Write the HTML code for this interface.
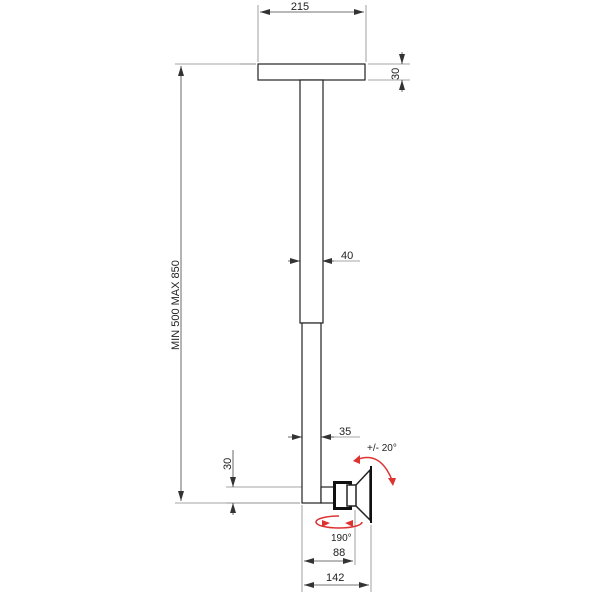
<!DOCTYPE html>
<html><head><style>body{margin:0;background:#fff}svg{display:block}</style></head><body>
<svg width="600" height="600" viewBox="0 0 600 600" font-family="Liberation Sans, sans-serif" font-size="11">
<defs>
<marker id="a" viewBox="0 0 10 6" refX="10" refY="3" markerWidth="10" markerHeight="6" orient="auto-start-reverse" markerUnits="userSpaceOnUse"><path d="M0,0L10,3L0,6z" fill="#333"/></marker>
</defs>
<g stroke="#888" stroke-width="0.8" fill="none">
<line x1="258" y1="5" x2="258" y2="62"/><line x1="366" y1="5" x2="366" y2="62"/>
<line x1="240" y1="64" x2="256" y2="64"/><line x1="175" y1="64" x2="256" y2="64"/>
<line x1="368" y1="64" x2="410" y2="64"/><line x1="368" y1="80" x2="410" y2="80"/>
<line x1="175" y1="503" x2="300" y2="503"/><line x1="226" y1="487" x2="316" y2="487"/>
<line x1="226" y1="503" x2="300" y2="503"/>
<line x1="302" y1="505" x2="302" y2="592"/><line x1="371" y1="525" x2="371" y2="592"/>
<line x1="355" y1="510" x2="355" y2="565"/>
<line x1="322" y1="261" x2="360" y2="261"/><line x1="322" y1="437" x2="360" y2="437"/>
</g>
<g stroke="#444" stroke-width="0.8" fill="none">
<line x1="260" y1="12" x2="364" y2="12" marker-start="url(#a)" marker-end="url(#a)"/>
<line x1="402" y1="52" x2="402" y2="64" marker-end="url(#a)"/>
<line x1="402" y1="92" x2="402" y2="80" marker-end="url(#a)"/>
<line x1="181" y1="66" x2="181" y2="501" marker-start="url(#a)" marker-end="url(#a)"/>
<line x1="233" y1="450" x2="233" y2="487" marker-end="url(#a)"/>
<line x1="233" y1="515" x2="233" y2="503" marker-end="url(#a)"/>
<line x1="288" y1="261" x2="300" y2="261" marker-end="url(#a)"/>
<line x1="334" y1="261" x2="322" y2="261" marker-end="url(#a)"/>
<line x1="288" y1="437" x2="302" y2="437" marker-end="url(#a)"/>
<line x1="334" y1="437" x2="321" y2="437" marker-end="url(#a)"/>
<line x1="304" y1="561" x2="353" y2="561" marker-start="url(#a)" marker-end="url(#a)"/>
<line x1="304" y1="585" x2="369" y2="585" marker-start="url(#a)" marker-end="url(#a)"/>
</g>
<g stroke="#222" stroke-width="1.2" fill="#fff">
<rect x="258" y="64" width="107" height="16"/>
<rect x="300" y="80" width="23" height="243"/>
<rect x="302" y="323" width="19" height="180"/>
<rect x="321" y="487" width="14" height="16"/>
</g>
<rect x="333" y="481" width="19" height="29" fill="#111"/>
<rect x="336" y="484" width="13" height="23" fill="#fff"/>
<rect x="347" y="485" width="11" height="21" fill="#fff" stroke="#222" stroke-width="1.5"/>
<path d="M356,485L370,470L370,520L356,506Z" fill="#fff" stroke="#222" stroke-width="1.5"/>
<line x1="371" y1="466" x2="371" y2="523" stroke="#111" stroke-width="2"/>
<g stroke="#d33" stroke-width="1.5" fill="none">
<path d="M356,460 Q380,450 392,480"/>
<path d="M339,516 A23,6 0 1 0 362,522"/>
</g>
<g fill="#d33">
<path d="M353,461l7,-6l0,9z"/><path d="M388,478l8,0l-3,8z"/>
<path d="M330,523l-8,-3l0,7z"/><path d="M345,523l8,-3l0,7z"/>
</g>
<g fill="#222" font-size="11">
<text x="300" y="10" text-anchor="middle">215</text>
<text x="341" y="259">40</text>
<text x="339" y="435">35</text>
<text x="333" y="556">88</text>
<text x="326" y="581">142</text>
<text x="331" y="541" font-size="10">190°</text>
<text x="367" y="451" font-size="10">+/- 20°</text>
<text transform="translate(399,80) rotate(-90)">30</text>
<text transform="translate(231,470) rotate(-90)">30</text>
<text transform="translate(179,350) rotate(-90)">MIN 500 MAX 850</text>
</g>
</svg>
</body></html>
